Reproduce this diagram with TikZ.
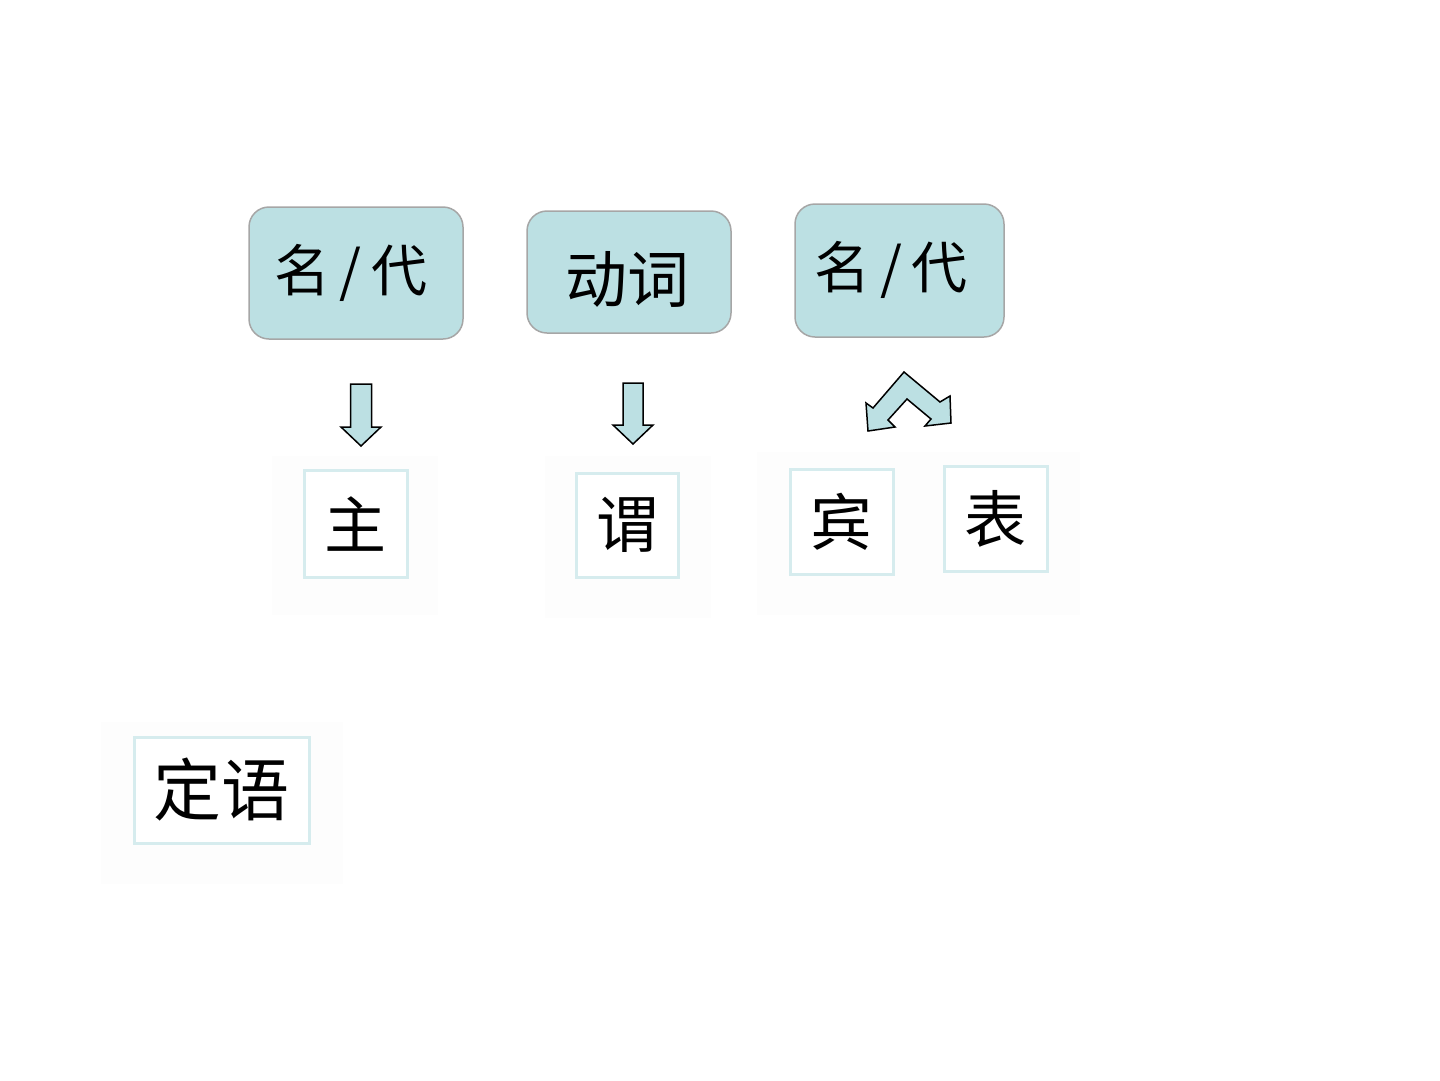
\documentclass[tikz,border=0pt]{standalone}
\usepackage{fontspec}
\usetikzlibrary{calc}
\newfontfamily\cjk{Noto Sans CJK SC}
\definecolor{boxfill}{HTML}{BCE0E3}
\definecolor{boxline}{HTML}{A6A6A6}
\definecolor{tagline}{HTML}{D6ECEE}
\definecolor{haze}{HTML}{FDFDFD}
\newcommand{\nounpron}{名\kern10pt/\kern10pt代}
\begin{document}
\begin{tikzpicture}[x=1pt,y=-1pt,
  wordbox/.style={draw=boxline,line width=1.5pt,fill=boxfill,rounded corners=20pt,
    font=\cjk\fontsize{54}{60}\selectfont,text=black,inner sep=0pt},
  tagbox/.style={draw=tagline,line width=3pt,fill=white,
    font=\cjk\fontsize{62}{70}\selectfont,text=black,inner sep=0pt},
  fatarrow/.style={draw=black,line width=1.5pt,fill=boxfill,line join=miter}]
\useasboundingbox (0,0) rectangle (1440,1080);
\fill[white] (0,0) rectangle (1440,1080);

% top row: parts of speech
\node[wordbox,minimum width=214pt,minimum height=132pt] (n1) at (356,273) {};
\node[font=\cjk\fontsize{56}{60}\selectfont,inner sep=0pt] (n1t) at (351,273) {\nounpron};
\node[wordbox,minimum width=204pt,minimum height=122pt] (v) at (629,272) {};
\node[font=\cjk\fontsize{62}{70}\selectfont,inner sep=0pt] (vt) at (627,279) {动词};
\node[wordbox,minimum width=209pt,minimum height=133pt] (n2) at (899.5,270.5) {};
\node[font=\cjk\fontsize{56}{60}\selectfont,inner sep=0pt] (n2t) at (891,270) {\nounpron};

% faint panels behind the sentence parts
\fill[haze] (272,456) rectangle (438,615);
\fill[haze] (545,456) rectangle (711,618);
\fill[haze] (757,452) rectangle (925,615);
\fill[haze] (925,452) rectangle (1080,615);
\fill[haze] (101,722) rectangle (343,884);

% sentence parts
\node[tagbox,minimum width=103pt,minimum height=107pt] (s) at (355.5,523.5) {\raisebox{-3pt}{主}};
\node[tagbox,minimum width=102pt,minimum height=104pt] (p) at (627,525) {\raisebox{-3pt}{谓}};
\node[tagbox,minimum width=103pt,minimum height=105pt] (o) at (841.5,521.5) {\raisebox{-3pt}{宾}};
\node[tagbox,minimum width=103pt,minimum height=105pt] (c) at (995.5,518.5) {\raisebox{-3pt}{表}};
\node[tagbox,minimum width=175pt,minimum height=106pt,font=\cjk\fontsize{68}{76}\selectfont] (a) at (221.5,790) {\raisebox{-5pt}{定语}};

% block arrows
\coordinate (a1) at (361,384);
\draw[fatarrow] ($(a1)+(-10.5,0)$) -- ++(21,0) -- ++(0,43) -- ++(9.5,0)
  -- ($(a1)+(0,62)$) -- ($(a1)+(-20,43)$) -- ++(9.5,0) -- cycle;
\coordinate (a2) at (633,383);
\draw[fatarrow] ($(a2)+(-10,0)$) -- ++(20,0) -- ++(0,42) -- ++(10,0)
  -- ($(a2)+(0,61)$) -- ($(a2)+(-20,42)$) -- ++(10,0) -- cycle;
\draw[fatarrow] (904,372) -- (940,402) -- (950,396) -- (951,423) -- (925,426)
  -- (931,419) -- (907,399) -- (888,420) -- (895,427) -- (868,431)
  -- (866,403) -- (873,408) -- cycle;
\end{tikzpicture}
\end{document}
